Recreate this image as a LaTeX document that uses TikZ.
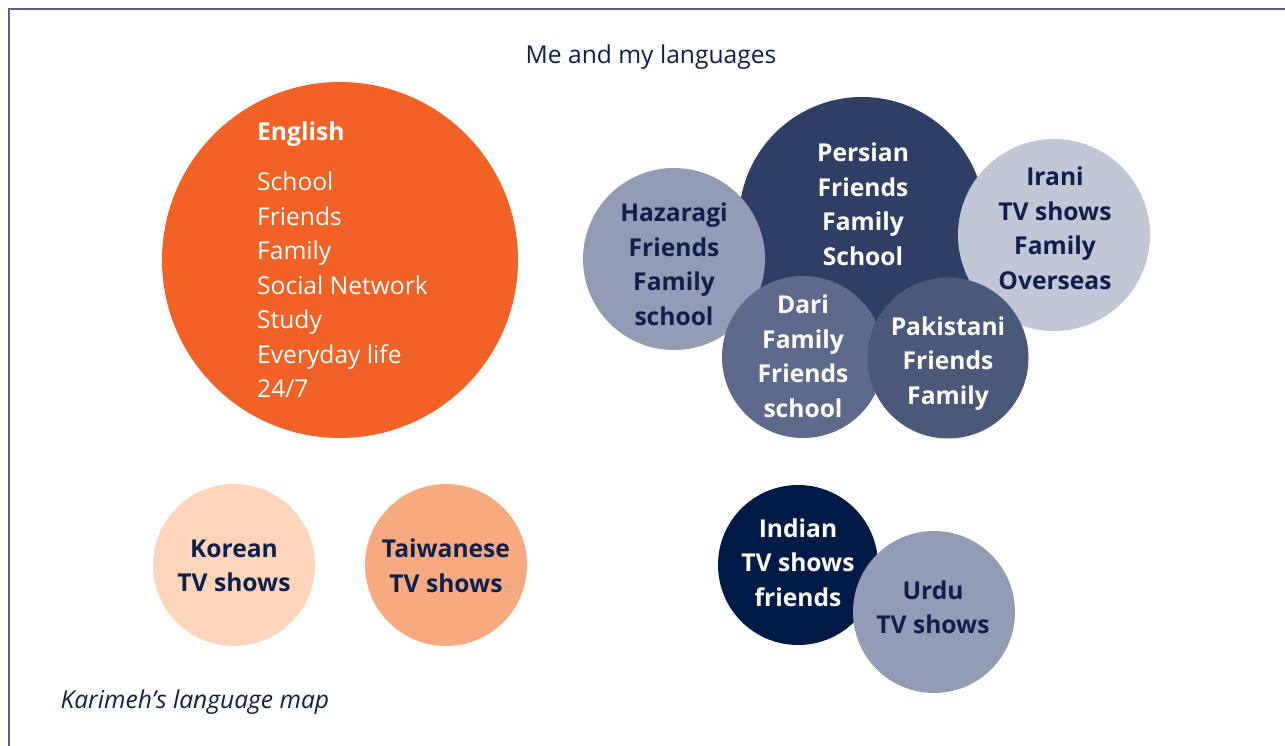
\documentclass[tikz,border=0pt]{standalone}
\usepackage{fontspec}
\setmainfont{Open Sans}
\definecolor{frame}{HTML}{55627F}
\definecolor{ink}{HTML}{0F1F4B}
\definecolor{cEnglish}{HTML}{F26125}
\definecolor{cPersian}{HTML}{2E3F66}
\definecolor{cHazaragi}{HTML}{939CB5}
\definecolor{cIrani}{HTML}{C2C7D6}
\definecolor{cDari}{HTML}{5E6A8C}
\definecolor{cPakistani}{HTML}{4A587A}
\definecolor{cKorean}{HTML}{FDD5BA}
\definecolor{cTaiwanese}{HTML}{F7AA80}
\definecolor{cIndian}{HTML}{001A47}
\definecolor{cUrdu}{HTML}{939CB5}
\tikzset{
  bubble/.style={circle, inner sep=0pt, draw=none, fill=#1},
  lbl/.style={align=center, inner sep=0pt,
    font=\fontsize{24.6}{34.5}\selectfont\bfseries},
  darklbl/.style={lbl, text=ink},
  lightlbl/.style={lbl, text=white},
}
\begin{document}
\begin{tikzpicture}[x=1pt, y=-1pt]
\useasboundingbox (0,0) rectangle (1285,746);
\clip (0,0) rectangle (1285,746);
% open frame, running off the right and bottom edges
\draw[frame, line width=2pt] (9,760) -- (9,9) -- (1300,9);

\node[text=ink, font=\fontsize{24.6}{29}\selectfont] (title) at (651,57) {Me and my languages};
\node[text=ink, font=\fontsize{24.6}{29}\selectfont\itshape, anchor=west] (caption) at (57,702) {Karimeh’s language map};

% English
\node[bubble=cEnglish, minimum size=356pt] (english) at (340,260) {};
\node[anchor=north west, inner sep=0pt, text=white, align=left,
      font=\fontsize{24.6}{34.5}\selectfont] (englishText) at (257,122)
  {{\bfseries English}\\[15.5pt]School\\Friends\\Family\\Social Network\\Study\\Everyday life\\24/7};

% Persian cluster
\node[bubble=cPersian, minimum size=246pt] (persian) at (862,220) {};
\node[bubble=cHazaragi, minimum size=182pt] (hazaragi) at (674,259) {};
\node[bubble=cIrani, minimum size=192pt] (irani) at (1054,235) {};
\node[bubble=cDari, minimum size=162pt] (dari) at (803,357) {};
\node[bubble=cPakistani, minimum size=161pt] (pakistani) at (948,358) {};

\node[lightlbl] (persianText) at (863,204.5) {Persian\\Friends\\Family\\School};
\node[darklbl] (hazaragiText) at (674,264.5) {Hazaragi\\Friends\\Family\\school};
\node[darklbl] (iraniText) at (1055,228.5) {Irani\\TV shows\\Family\\Overseas};
\node[lightlbl] (dariText) at (803,356.5) {Dari\\Family\\Friends\\school};
\node[lightlbl] (pakistaniText) at (948,363.5) {Pakistani\\Friends\\Family};

% TV shows
\node[bubble=cKorean, minimum size=162pt] (korean) at (234,565) {};
\node[bubble=cTaiwanese, minimum size=162pt] (taiwanese) at (446,565) {};
\node[darklbl] (koreanText) at (234,566) {Korean\\TV shows};
\node[darklbl] (taiwaneseText) at (446,566) {Taiwanese\\TV shows};

\node[bubble=cIndian, minimum size=160pt] (indian) at (798,565) {};
\node[bubble=cUrdu, minimum size=162pt] (urdu) at (934,612) {};
\node[lightlbl] (indianText) at (798,562.5) {Indian\\TV shows\\friends};
\node[darklbl] (urduText) at (933,607.5) {Urdu\\TV shows};
\end{tikzpicture}
\end{document}
